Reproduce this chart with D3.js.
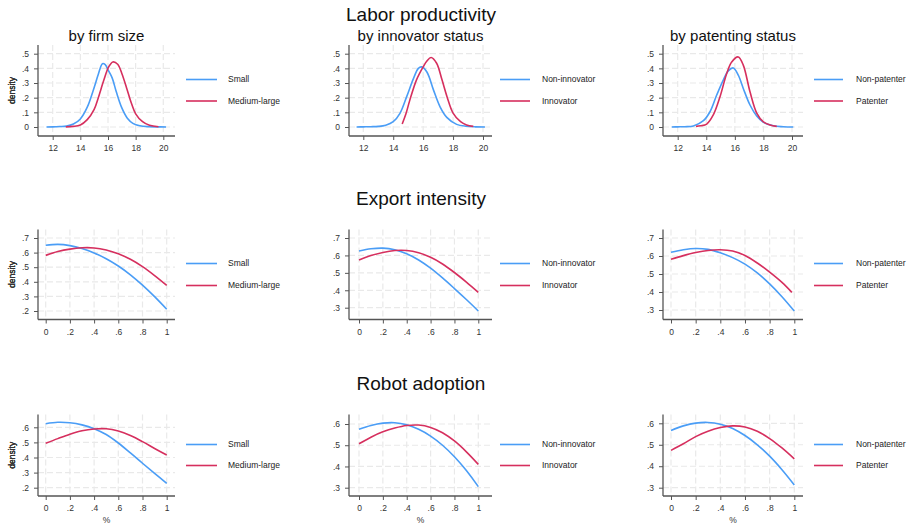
<!DOCTYPE html>
<html>
<head>
<meta charset="utf-8">
<script src="https://cdn.jsdelivr.net/npm/d3@7"></script>
<style>
  body { margin: 0; background: #ffffff; }
  svg { display: block; font-family: "Liberation Sans", Arial, sans-serif; }
</style>
</head>
<body>
<div id="chart"></div>
<script>
// Titles and labels
const rowTitles = ["Labor productivity", "Export intensity", "Robot adoption"];
const colTitles = ["by firm size", "by innovator status", "by patenting status"];
const legendLabels = [["Small", "Medium-large"], ["Non-innovator", "Innovator"], ["Non-patenter", "Patenter"]];

// Tick values
const lpTicksX = [12, 14, 16, 18, 20];
const lpTicksY = [0, .1, .2, .3, .4, .5];
const shareTicksX = [0, .2, .4, .6, .8, 1];
const expTicksYSize = [.2, .3, .4, .5, .6, .7];
const expTicksY = [.3, .4, .5, .6, .7];
const robTicksYSize = [.2, .3, .4, .5, .6];
const robTicksY = [.3, .4, .5, .6];

// Labor productivity densities [x, density]
const lpSmall = [[11.55,0],[12,0.001],[12.5,0.003],[13,0.006],[13.5,0.02],[14,0.055],[14.5,0.135],[15,0.27],[15.3,0.36],[15.6,0.432],[15.8,0.425],[16,0.39],[16.3,0.335],[16.6,0.24],[17,0.13],[17.4,0.06],[17.8,0.025],[18.3,0.008],[19,0.002],[19.5,0.001],[20.2,0]];
const lpMedLarge = [[12.95,0.001],[13.5,0.004],[14,0.014],[14.5,0.05],[15,0.12],[15.3,0.2],[15.7,0.32],[16.05,0.41],[16.35,0.444],[16.7,0.428],[17,0.365],[17.35,0.265],[17.7,0.16],[18,0.09],[18.5,0.036],[19,0.012],[19.65,0.002]];
const lpNonInnov = [[11.55,0],[12,0.001],[12.5,0.002],[13,0.004],[13.5,0.012],[14,0.036],[14.45,0.093],[14.9,0.207],[15.35,0.33],[15.68,0.4],[15.9,0.41],[16.25,0.375],[16.7,0.25],[17.13,0.138],[17.58,0.066],[18.24,0.018],[18.9,0.005],[19.5,0.001],[20.13,0]];
const lpInnov = [[14.6,0.02],[14.85,0.09],[15.1,0.18],[15.55,0.32],[16.0,0.41],[16.25,0.45],[16.53,0.474],[16.9,0.435],[17.25,0.325],[17.6,0.205],[18.0,0.095],[18.5,0.036],[18.9,0.014],[19.35,0.004]];
const lpNonPat = [[11.58,0],[12,0.001],[12.5,0.002],[13.1,0.007],[13.8,0.043],[14.26,0.104],[14.73,0.218],[15.19,0.32],[15.54,0.383],[15.89,0.403],[16.24,0.354],[16.59,0.263],[17.06,0.15],[17.53,0.075],[18,0.032],[18.7,0.008],[19.4,0.002],[20.09,0]];
const lpPat = [[13.28,0.004],[13.6,0.008],[14.03,0.02],[14.49,0.082],[14.96,0.206],[15.43,0.365],[15.78,0.444],[16.24,0.478],[16.59,0.422],[17.06,0.24],[17.53,0.095],[18,0.035],[18.46,0.014],[18.93,0.004]];

// Export intensity densities
const expSmall = [[0,0.65],[0.1,0.656],[0.2,0.648],[0.3,0.628],[0.4,0.598],[0.5,0.558],[0.6,0.508],[0.7,0.448],[0.8,0.377],[0.9,0.298],[1,0.212]];
const expMedLarge = [[0,0.581],[0.1,0.607],[0.2,0.624],[0.3,0.633],[0.4,0.632],[0.5,0.618],[0.6,0.592],[0.7,0.554],[0.8,0.504],[0.9,0.443],[1,0.376]];
const expNonInnov = [[0,0.625],[0.1,0.638],[0.2,0.642],[0.3,0.633],[0.4,0.61],[0.5,0.574],[0.6,0.527],[0.7,0.471],[0.8,0.41],[0.9,0.347],[1,0.281]];
const expInnov = [[0,0.574],[0.1,0.599],[0.2,0.617],[0.3,0.628],[0.4,0.628],[0.5,0.615],[0.6,0.589],[0.7,0.551],[0.8,0.502],[0.9,0.447],[1,0.388]];
const expNonPat = [[0,0.621],[0.1,0.635],[0.2,0.642],[0.3,0.637],[0.4,0.618],[0.5,0.591],[0.6,0.555],[0.7,0.506],[0.8,0.445],[0.9,0.374],[1,0.294]];
const expPat = [[0,0.582],[0.1,0.602],[0.2,0.619],[0.3,0.631],[0.4,0.635],[0.5,0.628],[0.6,0.603],[0.7,0.561],[0.8,0.51],[0.9,0.453],[0.98,0.398]];

// Robot adoption densities
const robSmall = [[0,0.624],[0.1,0.633],[0.2,0.63],[0.3,0.616],[0.4,0.591],[0.5,0.552],[0.6,0.496],[0.7,0.43],[0.8,0.362],[0.9,0.295],[1,0.229]];
const robMedLarge = [[0,0.494],[0.1,0.525],[0.2,0.554],[0.3,0.577],[0.4,0.589],[0.5,0.59],[0.6,0.575],[0.7,0.545],[0.8,0.505],[0.9,0.46],[1,0.417]];
const robNonInnov = [[0,0.575],[0.1,0.593],[0.2,0.604],[0.3,0.606],[0.4,0.596],[0.5,0.575],[0.6,0.543],[0.7,0.5],[0.8,0.446],[0.9,0.381],[1,0.305]];
const robInnov = [[0,0.507],[0.1,0.538],[0.2,0.563],[0.3,0.581],[0.4,0.593],[0.5,0.595],[0.6,0.584],[0.7,0.559],[0.8,0.52],[0.9,0.469],[1,0.41]];
const robNonPat = [[0,0.567],[0.1,0.588],[0.2,0.601],[0.3,0.604],[0.4,0.596],[0.5,0.576],[0.6,0.543],[0.7,0.5],[0.8,0.447],[0.9,0.384],[1,0.313]];
const robPat = [[0,0.474],[0.1,0.505],[0.2,0.538],[0.3,0.563],[0.4,0.58],[0.5,0.588],[0.6,0.583],[0.7,0.563],[0.8,0.529],[0.9,0.485],[1,0.434]];

const colorA = "#4a9df6";
const colorB = "#d62f5e";

const width = 910, height = 527;

// Column geometry: axis line x, right end, legend line and text x
const cols = [
    {left: 38, right: 175, lx1: 186, lx2: 217, tx: 228},
    {left: 349, right: 492, lx1: 500, lx2: 530, tx: 542},
    {left: 663, right: 803, lx1: 814, lx2: 843, tx: 856}
];
// Row geometry: top, axis line y, legend rows, title y
const rows = [
    {top: 45, bottom: 136, leg: [79.5, 101], titleY: 14},
    {top: 229.5, bottom: 319.5, leg: [263.5, 285.5], titleY: 198},
    {top: 414.5, bottom: 496, leg: [444.5, 465.5], titleY: 383}
];

// one entry per panel: ticks, pixel anchors of the first/last tick, series
const panels = [
    {r: 0, c: 0, xt: lpTicksX, xpx: [52.7, 163.3], yt: lpTicksY, ypx: [127, 53.7], series: [lpSmall, lpMedLarge]},
    {r: 0, c: 1, xt: lpTicksX, xpx: [363.3, 483], yt: lpTicksY, ypx: [127, 53.7], series: [lpNonInnov, lpInnov]},
    {r: 0, c: 2, xt: lpTicksX, xpx: [677.7, 792], yt: lpTicksY, ypx: [127, 53.7], series: [lpNonPat, lpPat]},
    {r: 1, c: 0, xt: shareTicksX, xpx: [45.7, 166.7], yt: expTicksYSize, ypx: [311, 238], series: [expSmall, expMedLarge]},
    {r: 1, c: 1, xt: shareTicksX, xpx: [359, 478.3], yt: expTicksY, ypx: [307.7, 238], series: [expNonInnov, expInnov]},
    {r: 1, c: 2, xt: shareTicksX, xpx: [671, 794.3], yt: expTicksY, ypx: [310, 238], series: [expNonPat, expPat]},
    {r: 2, c: 0, xt: shareTicksX, xpx: [45.7, 166.7], yt: robTicksYSize, ypx: [487.7, 427.3], series: [robSmall, robMedLarge]},
    {r: 2, c: 1, xt: shareTicksX, xpx: [359, 478.3], yt: robTicksY, ypx: [487.7, 424], series: [robNonInnov, robInnov]},
    {r: 2, c: 2, xt: shareTicksX, xpx: [671, 794.3], yt: robTicksY, ypx: [487.7, 423.3], series: [robNonPat, robPat]}
];

function fmtTick(d)
{
    if (d === 0) return "0";
    if (Number.isInteger(d)) return String(d);
    return d3.format(".1f")(d).replace(/^0/, "");
}

const svg = d3.select("#chart")
    .append("svg")
    .attr("width", width)
    .attr("height", height);

svg.append("rect").attr("width", width).attr("height", height).attr("fill", "#ffffff");

// Row titles
rows.forEach(function(row, i)
{
    svg.append("text")
        .attr("x", 421)
        .attr("y", row.titleY)
        .attr("dy", "0.35em")
        .attr("text-anchor", "middle")
        .attr("font-size", "19px")
        .attr("fill", "#111")
        .text(rowTitles[i]);
});

// Column subtitles (first row only)
cols.forEach(function(col, i)
{
    svg.append("text")
        .attr("x", (col.left + col.right) / 2)
        .attr("y", 36)
        .attr("dy", "0.35em")
        .attr("text-anchor", "middle")
        .attr("font-size", "15px")
        .attr("fill", "#111")
        .text(colTitles[i]);
});

panels.forEach(function(p)
{
    const col = cols[p.c], row = rows[p.r];
    const x = d3.scaleLinear()
        .domain([p.xt[0], p.xt[p.xt.length - 1]])
        .range(p.xpx);
    const y = d3.scaleLinear()
        .domain([p.yt[0], p.yt[p.yt.length - 1]])
        .range(p.ypx);

    const g = svg.append("g");

    // grid
    g.selectAll(".vgrid")
        .data(p.xt)
        .enter()
        .append("line")
        .attr("x1", d => x(d)).attr("x2", d => x(d))
        .attr("y1", row.top).attr("y2", row.bottom)
        .attr("stroke", "#e9e9e9")
        .attr("stroke-width", 1.2)
        .attr("stroke-dasharray", "6,3");
    g.selectAll(".hgrid")
        .data(p.yt)
        .enter()
        .append("line")
        .attr("x1", col.left).attr("x2", col.right)
        .attr("y1", d => y(d)).attr("y2", d => y(d))
        .attr("stroke", "#e9e9e9")
        .attr("stroke-width", 1.2)
        .attr("stroke-dasharray", "6,3");

    // axes
    const yAxis = g.append("g")
        .attr("transform", "translate(" + col.left + ",0)")
        .call(d3.axisLeft(y).tickValues(p.yt).tickSize(4).tickPadding(5).tickFormat(fmtTick));
    const xAxis = g.append("g")
        .attr("transform", "translate(0," + row.bottom + ")")
        .call(d3.axisBottom(x).tickValues(p.xt).tickSize(4).tickPadding(5).tickFormat(fmtTick));
    [yAxis, xAxis].forEach(function(a)
    {
        a.select(".domain").remove();
        a.selectAll(".tick line").attr("stroke", "#555").attr("stroke-width", 1);
        a.selectAll(".tick text")
            .attr("fill", "#333")
            .attr("font-size", "8.5px")
            .attr("font-family", "Liberation Sans, Arial, sans-serif");
    });
    g.append("line")
        .attr("x1", col.left).attr("x2", col.left)
        .attr("y1", row.top).attr("y2", row.bottom)
        .attr("stroke", "#555").attr("stroke-width", 1.3);
    g.append("line")
        .attr("x1", col.left).attr("x2", col.right)
        .attr("y1", row.bottom).attr("y2", row.bottom)
        .attr("stroke", "#555").attr("stroke-width", 1.3);

    // axis titles
    g.append("text")
        .attr("transform", "translate(12," + ((row.top + row.bottom) / 2) + ") rotate(-90)")
        .attr("text-anchor", "middle")
        .attr("dy", "0.35em")
        .attr("font-size", "8.5px")
        .attr("fill", "#333")
        .text("density");
    if (p.r === 2)
    {
        g.append("text")
            .attr("x", (col.left + col.right) / 2)
            .attr("y", 520)
            .attr("dy", "0.35em")
            .attr("text-anchor", "middle")
            .attr("font-size", "8.5px")
            .attr("fill", "#333")
            .text("%");
    }

    // curves
    const line = d3.line()
        .x(d => x(d[0]))
        .y(d => y(d[1]))
        .curve(d3.curveCatmullRom.alpha(0.5));
    const colors = [colorA, colorB];
    p.series.forEach(function(s, i)
    {
        g.append("path")
            .datum(s)
            .attr("d", line)
            .attr("fill", "none")
            .attr("stroke", colors[i])
            .attr("stroke-width", 1.6);
    });

    // legend
    legendLabels[p.c].forEach(function(lab, i)
    {
        g.append("line")
            .attr("x1", col.lx1).attr("x2", col.lx2)
            .attr("y1", row.leg[i]).attr("y2", row.leg[i])
            .attr("stroke", colors[i])
            .attr("stroke-width", 1.6);
        g.append("text")
            .attr("x", col.tx)
            .attr("y", row.leg[i])
            .attr("dy", "0.35em")
            .attr("font-size", "8.5px")
            .attr("fill", "#222")
            .text(lab);
    });
});
</script>
</body>
</html>
